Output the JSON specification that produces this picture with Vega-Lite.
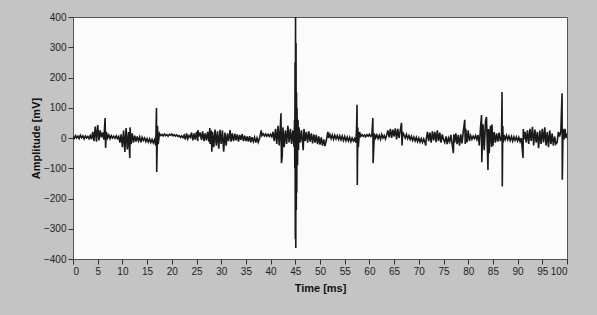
{
"$schema":"https://vega.github.io/schema/vega-lite/v6.json",
"autosize":{"type":"none"},
"padding":{"left":73,"top":17,"right":30,"bottom":56},
"width":494,"height":242,
"background":"#c4c4c4",
"config":{"view":{"fill":"#fbfbfb","stroke":"#555555","strokeWidth":1},
"axis":{"labelFont":"Liberation Sans","labelFontSize":10,"labelColor":"#222222","titleFont":"Liberation Sans","titleFontSize":11,"titleFontWeight":"bold","titleColor":"#111111","tickColor":"#333333","tickSize":5,"domain":false,"grid":false}},
"data":{"values":[
{"t":0,"v":5},{"t":0.25,"v":-1},{"t":0.5,"v":8},{"t":0.75,"v":0},{"t":1,"v":6},{"t":1.25,"v":-2},{"t":1.5,"v":9},{"t":1.75,"v":1},{"t":2,"v":7},{"t":2.25,"v":-3},{"t":2.5,"v":6},{"t":2.75,"v":0},{"t":3,"v":5},{"t":3.25,"v":-2},{"t":3.5,"v":8},{"t":3.75,"v":-4},
{"t":4,"v":20},{"t":4.25,"v":-10},{"t":4.5,"v":38},{"t":4.75,"v":-12},{"t":5,"v":43},{"t":5.25,"v":-8},{"t":5.5,"v":25},{"t":5.75,"v":2},{"t":6,"v":18},{"t":6.25,"v":-5},
{"t":6.5,"v":66},{"t":6.6,"v":-33},{"t":6.75,"v":20},{"t":7,"v":0},
{"t":7.25,"v":10},{"t":7.5,"v":-2},{"t":7.75,"v":8},{"t":8,"v":0},{"t":8.25,"v":6},{"t":8.5,"v":-1},{"t":8.75,"v":7},{"t":9,"v":-2},{"t":9.25,"v":5},
{"t":9.5,"v":-15},{"t":9.75,"v":12},{"t":10,"v":-30},{"t":10.25,"v":25},{"t":10.5,"v":-46},{"t":10.75,"v":33},{"t":11,"v":-38},{"t":11.25,"v":20},{"t":11.5,"v":-66},{"t":11.55,"v":35},{"t":11.75,"v":-20},{"t":12,"v":15},
{"t":12.25,"v":-15},{"t":12.5,"v":8},{"t":12.75,"v":-12},{"t":13,"v":5},{"t":13.25,"v":-10},{"t":13.5,"v":3},{"t":13.75,"v":-14},{"t":14,"v":2},{"t":14.25,"v":-8},{"t":14.5,"v":0},{"t":14.75,"v":-12},{"t":15,"v":-2},{"t":15.25,"v":-13},{"t":15.5,"v":-3},{"t":15.75,"v":-15},{"t":16,"v":-5},{"t":16.25,"v":-16},{"t":16.5,"v":-6},
{"t":16.75,"v":-25},{"t":16.85,"v":60},{"t":16.9,"v":99},{"t":16.95,"v":-112},{"t":17,"v":-63},{"t":17.1,"v":40},{"t":17.25,"v":-20},{"t":17.5,"v":15},
{"t":17.75,"v":8},{"t":18,"v":12},{"t":18.25,"v":7},{"t":18.5,"v":13},{"t":18.75,"v":8},{"t":19,"v":11},{"t":19.25,"v":6},{"t":19.5,"v":12},{"t":19.75,"v":9},{"t":20,"v":13},{"t":20.25,"v":7},{"t":20.5,"v":11},{"t":20.75,"v":6},{"t":21,"v":10},{"t":21.25,"v":5},
{"t":21.5,"v":8},{"t":21.75,"v":2},{"t":22,"v":7},{"t":22.25,"v":1},{"t":22.5,"v":9},{"t":22.75,"v":-5},{"t":23,"v":15},{"t":23.25,"v":-3},{"t":23.5,"v":8},{"t":23.75,"v":2},
{"t":24,"v":18},{"t":24.25,"v":-8},{"t":24.5,"v":15},{"t":24.75,"v":-5},{"t":25,"v":20},{"t":25.25,"v":-10},{"t":25.3,"v":26},{"t":25.5,"v":5},{"t":25.75,"v":18},{"t":26,"v":-6},{"t":26.25,"v":22},{"t":26.5,"v":-10},{"t":26.75,"v":15},{"t":27,"v":-8},{"t":27.25,"v":20},{"t":27.5,"v":-12},{"t":27.7,"v":33},
{"t":27.75,"v":-20},{"t":28,"v":25},{"t":28.1,"v":-45},{"t":28.25,"v":20},{"t":28.5,"v":-30},{"t":28.75,"v":28},{"t":29,"v":-25},{"t":29.25,"v":22},{"t":29.5,"v":-35},{"t":29.75,"v":27},{"t":30,"v":-20},{"t":30.25,"v":25},{"t":30.5,"v":-45},{"t":30.75,"v":18},{"t":31,"v":-25},{"t":31.25,"v":15},
{"t":31.5,"v":-10},{"t":31.8,"v":26},{"t":32,"v":-12},{"t":32.25,"v":15},{"t":32.5,"v":-10},{"t":32.75,"v":14},{"t":33,"v":-8},{"t":33.25,"v":12},{"t":33.5,"v":-12},{"t":33.75,"v":10},{"t":34,"v":-6},{"t":34.25,"v":13},{"t":34.5,"v":-10},
{"t":34.75,"v":8},{"t":35,"v":-10},{"t":35.25,"v":5},{"t":35.5,"v":-12},{"t":35.75,"v":6},{"t":36,"v":-14},{"t":36.25,"v":3},{"t":36.5,"v":-12},{"t":36.75,"v":2},{"t":37,"v":-15},{"t":37.25,"v":0},{"t":37.5,"v":-14},{"t":37.75,"v":-2},
{"t":38.1,"v":25},{"t":38.25,"v":8},{"t":38.5,"v":14},{"t":38.75,"v":7},{"t":39,"v":13},{"t":39.25,"v":6},{"t":39.5,"v":12},{"t":39.75,"v":5},{"t":40,"v":12},{"t":40.25,"v":4},
{"t":40.5,"v":20},{"t":40.75,"v":-10},{"t":41,"v":30},{"t":41.25,"v":-20},{"t":41.5,"v":40},{"t":41.75,"v":-25},{"t":42,"v":45},{"t":42.1,"v":82},{"t":42.2,"v":-83},{"t":42.35,"v":-60},{"t":42.5,"v":35},{"t":42.75,"v":-30},{"t":43,"v":25},{"t":43.25,"v":-20},{"t":43.5,"v":40},{"t":43.75,"v":-15},{"t":44,"v":30},{"t":44.25,"v":-20},{"t":44.5,"v":25},{"t":44.75,"v":-30},
{"t":44.85,"v":60},{"t":44.9,"v":-100},{"t":44.95,"v":250},{"t":45,"v":-334},{"t":45.05,"v":400},{"t":45.1,"v":-364},{"t":45.15,"v":314},{"t":45.2,"v":-238},{"t":45.25,"v":150},{"t":45.3,"v":-180},{"t":45.35,"v":100},{"t":45.45,"v":-90},{"t":45.55,"v":60},{"t":45.65,"v":-40},
{"t":45.75,"v":35},{"t":46,"v":-15},{"t":46.25,"v":25},{"t":46.5,"v":-20},{"t":46.6,"v":-40},{"t":46.75,"v":30},{"t":47,"v":-10},{"t":47.25,"v":20},{"t":47.5,"v":-15},{"t":47.75,"v":22},{"t":48,"v":-12},{"t":48.25,"v":15},{"t":48.5,"v":-18},{"t":48.75,"v":12},{"t":49,"v":-15},{"t":49.25,"v":10},{"t":49.5,"v":-20},{"t":49.75,"v":5},{"t":50,"v":-22},{"t":50.25,"v":2},{"t":50.5,"v":-25},{"t":50.75,"v":-5},{"t":51,"v":-27},{"t":51.25,"v":-10},
{"t":51.6,"v":20},{"t":51.75,"v":0},{"t":52,"v":12},{"t":52.25,"v":-2},{"t":52.5,"v":10},{"t":52.75,"v":-4},{"t":53,"v":9},{"t":53.25,"v":-3},{"t":53.5,"v":8},{"t":53.75,"v":-5},{"t":54,"v":7},{"t":54.25,"v":-6},{"t":54.5,"v":6},{"t":54.75,"v":-8},{"t":55,"v":5},{"t":55.25,"v":-9},{"t":55.5,"v":3},{"t":55.75,"v":-10},{"t":56,"v":2},{"t":56.25,"v":-12},{"t":56.5,"v":0},{"t":56.75,"v":-10},{"t":57,"v":-2},{"t":57.25,"v":-15},
{"t":57.4,"v":30},{"t":57.5,"v":110},{"t":57.55,"v":-155},{"t":57.65,"v":35},{"t":57.75,"v":-30},{"t":58,"v":20},
{"t":58.25,"v":5},{"t":58.5,"v":11},{"t":58.75,"v":5},{"t":59,"v":10},{"t":59.25,"v":4},{"t":59.5,"v":11},{"t":59.75,"v":6},{"t":60,"v":12},{"t":60.25,"v":5},{"t":60.5,"v":9},
{"t":60.7,"v":66},{"t":60.75,"v":-83},{"t":61,"v":15},{"t":61.25,"v":0},{"t":61.5,"v":10},{"t":61.75,"v":-2},{"t":62,"v":9},{"t":62.25,"v":-4},{"t":62.5,"v":12},{"t":62.75,"v":0},{"t":63,"v":8},{"t":63.25,"v":-3},{"t":63.5,"v":10},
{"t":63.75,"v":25},{"t":64,"v":2},{"t":64.25,"v":30},{"t":64.5,"v":0},{"t":64.75,"v":28},{"t":65,"v":5},{"t":65.25,"v":32},{"t":65.5,"v":-5},{"t":65.75,"v":30},{"t":66,"v":0},{"t":66.25,"v":25},{"t":66.5,"v":50},{"t":66.6,"v":-25},{"t":66.75,"v":20},
{"t":67,"v":10},{"t":67.25,"v":0},{"t":67.5,"v":12},{"t":67.75,"v":-2},{"t":68,"v":8},{"t":68.25,"v":-5},{"t":68.5,"v":6},{"t":68.75,"v":-8},{"t":69,"v":3},{"t":69.25,"v":-10},{"t":69.5,"v":2},{"t":69.75,"v":-12},{"t":70,"v":0},{"t":70.25,"v":-13},{"t":70.5,"v":-2},{"t":70.75,"v":-15},{"t":71,"v":-3},{"t":71.25,"v":-14},{"t":71.4,"v":-25},{"t":71.5,"v":-5},
{"t":71.75,"v":20},{"t":72,"v":-10},{"t":72.25,"v":18},{"t":72.5,"v":-15},{"t":72.75,"v":22},{"t":73,"v":-8},{"t":73.25,"v":20},{"t":73.5,"v":-14},{"t":73.75,"v":25},{"t":74,"v":-10},{"t":74.25,"v":18},{"t":74.5,"v":-15},{"t":74.75,"v":12},
{"t":75,"v":-5},{"t":75.25,"v":-15},{"t":75.5,"v":5},{"t":75.75,"v":-20},{"t":76,"v":0},{"t":76.25,"v":-12},
{"t":76.5,"v":10},{"t":76.75,"v":-20},{"t":77,"v":-50},{"t":77.1,"v":12},{"t":77.25,"v":-15},{"t":77.5,"v":15},{"t":77.75,"v":-20},{"t":78,"v":10},{"t":78.25,"v":-25},{"t":78.5,"v":12},{"t":78.75,"v":-18},{"t":79,"v":20},
{"t":79.3,"v":60},{"t":79.4,"v":-20},{"t":79.5,"v":30},{"t":79.75,"v":-15},{"t":80,"v":25},{"t":80.25,"v":-10},
{"t":80.5,"v":8},{"t":80.75,"v":-4},{"t":81,"v":6},{"t":81.25,"v":-2},{"t":81.5,"v":8},{"t":81.75,"v":-5},{"t":82,"v":10},
{"t":82.25,"v":-25},{"t":82.5,"v":35},{"t":82.7,"v":76},{"t":82.75,"v":-80},{"t":83,"v":45},{"t":83.25,"v":-40},{"t":83.5,"v":55},{"t":83.7,"v":70},{"t":84,"v":-106},{"t":84.1,"v":30},{"t":84.25,"v":-50},{"t":84.5,"v":40},{"t":84.75,"v":-30},{"t":84.8,"v":45},{"t":85,"v":-25},{"t":85.25,"v":20},{"t":85.5,"v":-15},
{"t":85.75,"v":15},{"t":86,"v":-12},{"t":86.25,"v":18},{"t":86.5,"v":-10},{"t":86.75,"v":5},
{"t":86.85,"v":152},{"t":86.9,"v":-160},{"t":87,"v":40},{"t":87.1,"v":-15},{"t":87.25,"v":10},
{"t":87.5,"v":-5},{"t":87.75,"v":8},{"t":88,"v":-6},{"t":88.25,"v":6},{"t":88.5,"v":-8},{"t":88.75,"v":5},{"t":89,"v":-10},{"t":89.25,"v":4},{"t":89.5,"v":-8},{"t":89.75,"v":3},{"t":90,"v":-10},{"t":90.25,"v":2},{"t":90.5,"v":-12},{"t":90.75,"v":0},
{"t":91.1,"v":-66},{"t":91.15,"v":30},{"t":91.25,"v":-5},
{"t":91.5,"v":20},{"t":91.75,"v":-15},{"t":92,"v":25},{"t":92.25,"v":-20},{"t":92.5,"v":30},{"t":92.75,"v":-10},{"t":93,"v":37},{"t":93.25,"v":-25},{"t":93.5,"v":28},{"t":93.75,"v":-15},{"t":94,"v":20},{"t":94.25,"v":-34},{"t":94.5,"v":25},{"t":94.75,"v":-20},{"t":95,"v":30},{"t":95.25,"v":-15},{"t":95.5,"v":35},{"t":95.75,"v":-25},{"t":96,"v":20},{"t":96.25,"v":-30},{"t":96.5,"v":25},{"t":96.75,"v":-20},{"t":97,"v":15},{"t":97.25,"v":-25},{"t":97.5,"v":5},{"t":97.75,"v":-20},{"t":98,"v":-15},
{"t":98.25,"v":20},{"t":98.5,"v":5},{"t":98.75,"v":22},{"t":99,"v":148},{"t":99.05,"v":-138},{"t":99.2,"v":30},{"t":99.4,"v":-5},{"t":99.6,"v":30},{"t":99.8,"v":0},{"t":100,"v":15}
]},
"mark":{"type":"line","color":"#1a1a1a","strokeWidth":1.6,"clip":true},
"encoding":{
"x":{"field":"t","type":"quantitative","scale":{"domain":[0,100],"nice":false,"zero":false},"axis":{"title":"Time [ms]","values":[0,5,10,15,20,25,30,35,40,45,50,55,60,65,70,75,80,85,90,95,100],"labelPadding":2,"titlePadding":6,"labelOverlap":false}},
"y":{"field":"v","type":"quantitative","scale":{"domain":[-400,400],"nice":false},"axis":{"title":"Amplitude [mV]","values":[-400,-300,-200,-100,0,100,200,300,400],"labelPadding":2,"titlePadding":2}}
}
}
